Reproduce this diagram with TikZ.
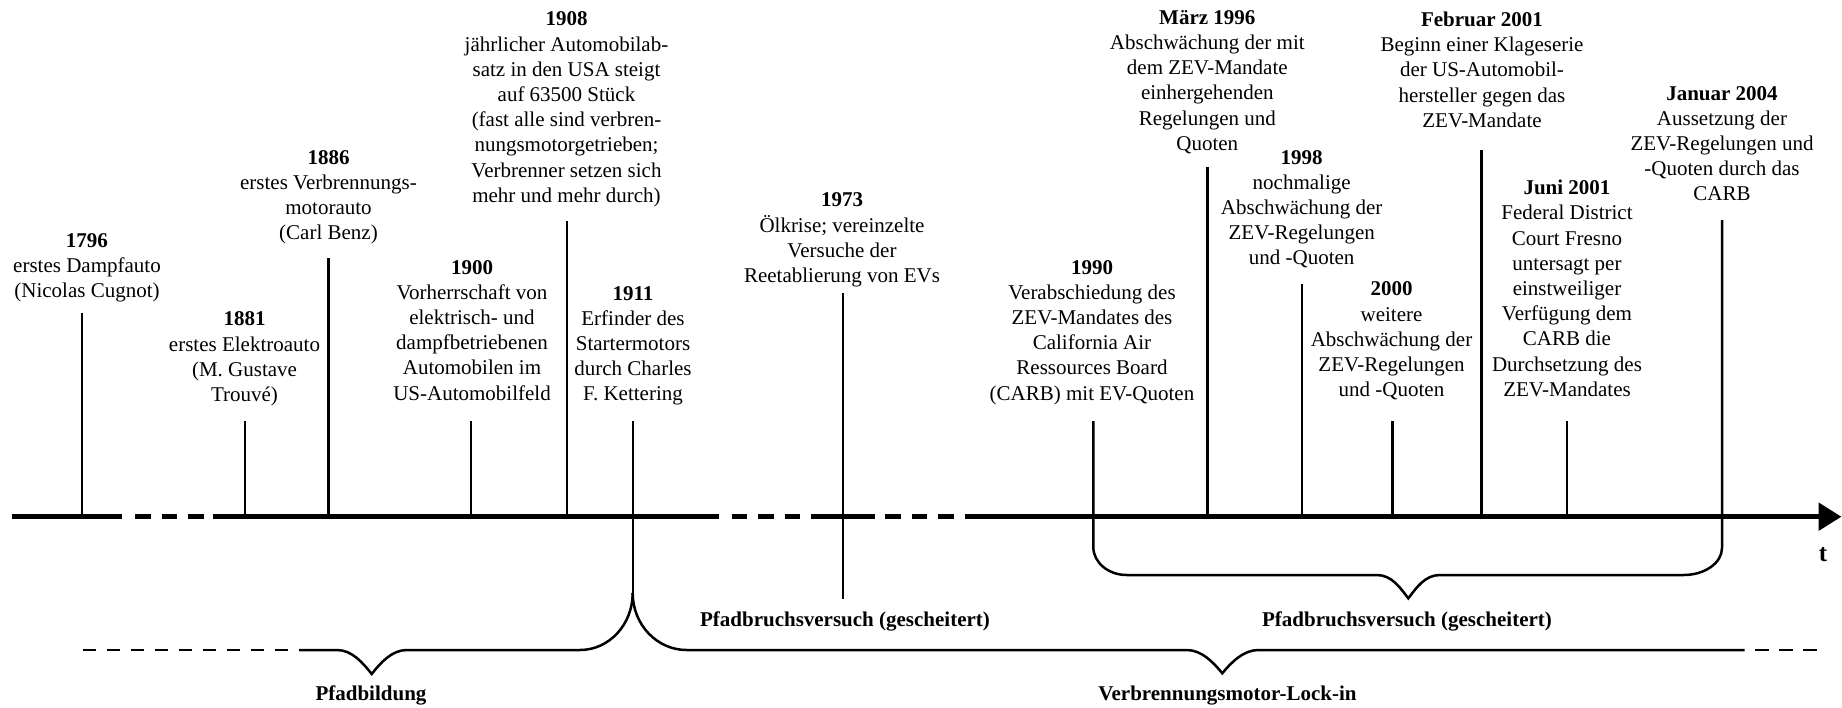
\documentclass[tikz,border=0pt]{standalone}
\usepackage{fontspec}
\setmainfont{Liberation Serif}
\usetikzlibrary{arrows.meta}

\begin{document}
\begin{tikzpicture}[x=1pt,y=-1pt,
  event/.style={align=center, anchor=north, inner sep=0pt,
    font=\fontsize{21}{25.2}\selectfont},
  phase/.style={anchor=base, inner sep=0pt,
    font=\fontsize{21}{25.2}\selectfont\bfseries},
  ticklink/.style={line width=2.4pt},
  axisline/.style={line width=5.5pt},
  axisgap/.style={line width=5.5pt, dash pattern=on 15.5pt off 11pt},
  bracel/.style={line width=2.5pt},
  bracegap/.style={line width=2.5pt, dash pattern=on 13.5pt off 10.5pt},
]
\useasboundingbox[fill=white] (0,0) rectangle (1842,707);

% ---------------- time axis ----------------
\coordinate (axL) at (12,516.7);
\coordinate (axR) at (1841.5,516.7);
\draw[axisline] (axL) -- (121.7,516.7);
\draw[axisgap]  (135,516.7) -- (204,516.7);
\draw[axisline] (212.7,516.7) -- (719.3,516.7);
\draw[axisgap]  (731.7,516.7) -- (800.5,516.7);
\draw[axisline] (810.7,516.7) -- (875,516.7);
\draw[axisgap]  (885,516.7) -- (954,516.7);
\draw[axisline, -{Triangle[length=23pt,width=27pt]}] (965,516.7) -- (axR);
\node[phase, font=\fontsize{25}{30}\selectfont\bfseries] (tlab) at (1823,561) {t};

% ---------------- events ----------------
\node[event] (e1796) at (87,233.3) {\textbf{1796}\\erstes Dampfauto\\(Nicolas Cugnot)};
\node[event] (e1881) at (244.5,311.7) {\textbf{1881}\\erstes Elektroauto\\(M. Gustave\\Trouvé)};
\node[event] (e1886) at (328.5,150) {\textbf{1886}\\erstes Verbrennungs-\\motorauto\\(Carl Benz)};
\node[event] (e1900) at (472,260) {\textbf{1900}\\Vorherrschaft von\\elektrisch- und\\dampfbetriebenen\\Automobilen im\\US-Automobilfeld};
\node[event] (e1908) at (566.5,11.7) {\textbf{1908}\\jährlicher Automobilab-\\satz in den USA steigt\\auf 63500 Stück\\(fast alle sind verbren-\\nungsmotorgetrieben;\\Verbrenner setzen sich\\mehr und mehr durch)};
\node[event] (e1911) at (633,286) {\textbf{1911}\\Erfinder des\\Startermotors\\durch Charles\\F. Kettering};
\node[event] (e1973) at (842,192.7) {\textbf{1973}\\Ölkrise; vereinzelte\\Versuche der\\Reetablierung von EVs};
\node[event] (e1990) at (1092,260) {\textbf{1990}\\Verabschiedung des\\ZEV-Mandates des\\California Air\\Ressources Board\\(CARB) mit EV-Quoten};
\node[event] (e1996) at (1207.3,10) {\textbf{März 1996}\\Abschwächung der mit\\dem ZEV-Mandate\\einhergehenden\\Regelungen und\\Quoten};
\node[event] (e1998) at (1301.7,150) {\textbf{1998}\\nochmalige\\Abschwächung der\\ZEV-Regelungen\\und -Quoten};
\node[event] (e2000) at (1391.5,281.7) {\textbf{2000}\\weitere\\Abschwächung der\\ZEV-Regelungen\\und -Quoten};
\node[event] (e2001a) at (1482,11.7) {\textbf{Februar 2001}\\Beginn einer Klageserie\\der US-Automobil-\\hersteller gegen das\\ZEV-Mandate};
\node[event] (e2001b) at (1567,180) {\textbf{Juni 2001}\\Federal District\\Court Fresno\\untersagt per\\einstweiliger\\Verfügung dem\\CARB die\\Durchsetzung des\\ZEV-Mandates};
\node[event] (e2004) at (1722,86) {\textbf{Januar 2004}\\Aussetzung der\\ZEV-Regelungen und\\-Quoten durch das\\CARB};

% tick tops
\coordinate (t1796) at (81.7,313);
\coordinate (t1881) at (245,421);
\coordinate (t1886) at (328.3,258.3);
\coordinate (t1900) at (471,421);
\coordinate (t1908) at (566.7,221);
\coordinate (t1911) at (632.7,421);
\coordinate (t1973) at (842.7,293.3);
\coordinate (t1990) at (1093.3,421);
\coordinate (t1996) at (1207.3,166.7);
\coordinate (t1998) at (1301.7,284);
\coordinate (t2000) at (1392.3,421);
\coordinate (t2001a) at (1481.5,150);
\coordinate (t2001b) at (1567,421);
\coordinate (t2004) at (1722,220);

% tick feet on the axis
\coordinate (a1796) at (81.7,516.7);
\coordinate (a1881) at (245,516.7);
\coordinate (a1886) at (328.3,516.7);
\coordinate (a1900) at (471,516.7);
\coordinate (a1908) at (566.7,516.7);
\coordinate (a1996) at (1207.3,516.7);
\coordinate (a1998) at (1301.7,516.7);
\coordinate (a2000) at (1392.3,516.7);
\coordinate (a2001a) at (1481.5,516.7);
\coordinate (a2001b) at (1567,516.7);

\draw[ticklink] (t1796) -- (a1796);
\draw[ticklink] (t1881) -- (a1881);
\draw[ticklink] (t1886) -- (a1886);
\draw[ticklink] (t1900) -- (a1900);
\draw[ticklink] (t1908) -- (a1908);
\draw[ticklink] (t1996) -- (a1996);
\draw[ticklink] (t1998) -- (a1998);
\draw[ticklink] (t2000) -- (a2000);
\draw[ticklink] (t2001a) -- (a2001a);
\draw[ticklink] (t2001b) -- (a2001b);

% 1973 reaches down to the first failed break attempt
\coordinate (b1973) at (842.7,599.3);
\draw[ticklink] (t1973) -- (b1973);
\node[phase] (pv1) at (845,626.7) {Pfadbruchsversuch (gescheitert)};

% 1911 reaches down to the cusp between path formation and lock-in
\coordinate (cusp) at (632.7,593);
\draw[ticklink] (t1911) -- (cusp);

% ---------------- braces ----------------
% path formation
\draw[bracegap] (82.7,650) -- (299.3,650);
\draw[bracel] (299.3,650) -- (337,650)
  .. controls (352,650) and (363,663) .. (371.7,674)
  .. controls (380.4,663) and (391.7,650) .. (406.7,650)
  -- (580,650)
  .. controls (609.1,650) and (632.7,624.5) .. (cusp);
\node[phase] (pb) at (371,700) {Pfadbildung};

% combustion engine lock-in
\draw[bracel] (cusp)
  .. controls (632.7,624.5) and (656.8,650) .. (686.7,650)
  -- (1186.7,650)
  .. controls (1201.7,650) and (1213.6,662.6) .. (1222.3,673.3)
  .. controls (1231,662.6) and (1243.3,650) .. (1258.3,650)
  -- (1744.7,650);
\draw[bracegap] (1755,650) -- (1817,650);
\node[phase] (lock) at (1227.5,700) {Verbrennungsmotor-Lock-in};

% second failed break attempt, 1990 to 2004
\draw[bracel] (t1990) -- (1093.3,547)
  .. controls (1093.3,562.5) and (1108.3,575) .. (1126.7,575)
  -- (1376.7,575)
  .. controls (1391.7,575) and (1400,587.5) .. (1408.3,598.3)
  .. controls (1416.6,587.5) and (1425,575) .. (1440,575)
  -- (1683.7,575)
  .. controls (1704.7,575) and (1722,563) .. (1722,548)
  -- (t2004);
\node[phase] (pv2) at (1407,626.7) {Pfadbruchsversuch (gescheitert)};

\end{tikzpicture}
\end{document}
